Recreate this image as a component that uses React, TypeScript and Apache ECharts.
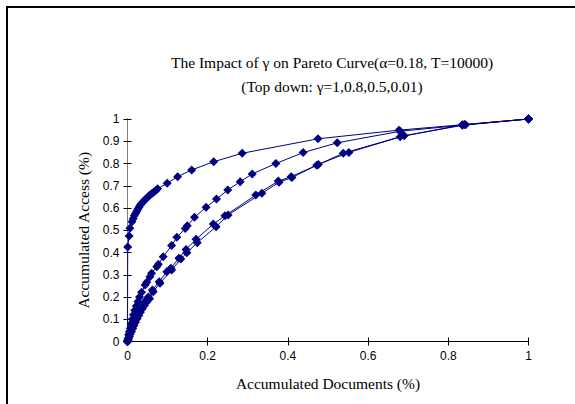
import React, { useEffect, useRef } from "react";
import * as echarts from "echarts";

const titleLine1 = "The Impact of γ on Pareto Curve(α=0.18, T=10000)";
const titleLine2 = "(Top down: γ=1,0.8,0.5,0.01)";
const xAxisName = "Accumulated Documents (%)";
const yAxisName = "Accumulated Access (%)";
const seriesNames = ["γ=1", "γ=0.8", "γ=0.5", "γ=0.01"];

const g1X = [0, 0.0005, 0.004, 0.006, 0.011, 0.014, 0.017, 0.02, 0.023, 0.026, 0.029, 0.032, 0.035, 0.039, 0.043, 0.047, 0.051, 0.055, 0.06, 0.065, 0.07, 0.075, 0.099, 0.125, 0.16, 0.215, 0.286, 0.475, 0.677, 0.84, 1];
const g1Y = [0, 0.425, 0.474, 0.509, 0.538, 0.552, 0.565, 0.575, 0.585, 0.595, 0.605, 0.613, 0.62, 0.628, 0.636, 0.643, 0.65, 0.657, 0.664, 0.671, 0.678, 0.686, 0.711, 0.741, 0.771, 0.808, 0.846, 0.911, 0.95, 0.975, 1];

const g08X = [0, 0.001, 0.002, 0.003, 0.005, 0.007, 0.009, 0.012, 0.015, 0.018, 0.022, 0.026, 0.03, 0.035, 0.044, 0.048, 0.056, 0.06, 0.073, 0.077, 0.089, 0.11, 0.123, 0.144, 0.149, 0.167, 0.196, 0.222, 0.25, 0.281, 0.311, 0.37, 0.438, 0.523, 0.68, 0.835, 1];
const g08Y = [0, 0.005, 0.015, 0.03, 0.045, 0.06, 0.08, 0.1, 0.12, 0.14, 0.16, 0.18, 0.2, 0.221, 0.254, 0.266, 0.291, 0.307, 0.336, 0.347, 0.381, 0.431, 0.468, 0.508, 0.52, 0.558, 0.603, 0.64, 0.681, 0.718, 0.753, 0.8, 0.849, 0.893, 0.945, 0.972, 1];

const g05X = [0, 0.001, 0.002, 0.004, 0.006, 0.008, 0.011, 0.014, 0.018, 0.022, 0.026, 0.03, 0.035, 0.04, 0.046, 0.052, 0.062, 0.079, 0.098, 0.108, 0.128, 0.146, 0.171, 0.214, 0.243, 0.32, 0.376, 0.408, 0.472, 0.538, 0.68, 0.835, 1];
const g05Y = [0, 0.005, 0.015, 0.03, 0.04, 0.05, 0.065, 0.08, 0.095, 0.11, 0.125, 0.14, 0.155, 0.17, 0.185, 0.2, 0.231, 0.269, 0.314, 0.329, 0.374, 0.414, 0.459, 0.528, 0.565, 0.658, 0.721, 0.741, 0.792, 0.846, 0.92, 0.974, 1];

const g001X = [0, 0.001, 0.003, 0.005, 0.007, 0.01, 0.013, 0.016, 0.02, 0.024, 0.028, 0.032, 0.037, 0.042, 0.048, 0.055, 0.064, 0.081, 0.11, 0.133, 0.148, 0.174, 0.221, 0.251, 0.335, 0.378, 0.41, 0.476, 0.552, 0.69, 0.843, 1];
const g001Y = [0, 0.004, 0.012, 0.024, 0.034, 0.045, 0.058, 0.072, 0.087, 0.102, 0.117, 0.132, 0.147, 0.162, 0.177, 0.192, 0.224, 0.262, 0.321, 0.371, 0.399, 0.444, 0.516, 0.569, 0.666, 0.716, 0.737, 0.796, 0.85, 0.925, 0.974, 1];

const xTicks = { min: 0, max: 1, interval: 0.2 };
const yTicks = { min: 0, max: 1, interval: 0.1 };

const zip = (xs: number[], ys: number[]) => xs.map((x, i) => [x, ys[i]]);

export default function App() {
  const ref = useRef<HTMLDivElement>(null);
  useEffect(() => {
    document.body.style.margin = "0";
    if (!ref.current) return;
    const chart = echarts.init(ref.current, undefined, { renderer: "svg" });
    const navy = "#000080";
    const serif = "'Liberation Serif', 'Times New Roman', serif";
    const sans = "'Liberation Sans', Arial, sans-serif";
    const black = "#000";
    const allData = [zip(g1X, g1Y), zip(g08X, g08Y), zip(g05X, g05Y), zip(g001X, g001Y)];
    chart.setOption({
      animation: false,
      backgroundColor: "#fff",
      title: {
        text: titleLine1 + "\n" + titleLine2,
        left: 327,
        top: 45,
        textAlign: "center",
        padding: 5,
        textStyle: { fontFamily: serif, fontSize: 15.5, fontWeight: "normal", color: black, lineHeight: 24.5, align: "center" },
      },
      grid: { left: 127.5, right: 46.5, top: 119, bottom: 62.5, containLabel: false },
      xAxis: [
        {
          type: "value", ...xTicks, position: "bottom",
          axisLine: { show: true, lineStyle: { color: black, width: 1 } },
          axisTick: { show: true, inside: false, length: 4, lineStyle: { color: black } },
          axisLabel: { color: black, fontFamily: sans, fontSize: 12, margin: 8 },
          splitLine: { show: false },
          name: xAxisName, nameLocation: "middle", nameGap: 34,
          nameTextStyle: { fontFamily: serif, fontSize: 15.5, color: black },
        },
        {
          type: "value", ...xTicks, position: "bottom",
          axisLine: { show: false },
          axisTick: { show: true, inside: true, length: 4, lineStyle: { color: black } },
          axisLabel: { show: false }, splitLine: { show: false },
        },
        {
          type: "value", ...xTicks, position: "top",
          axisLine: { show: true, lineStyle: { color: black, width: 1 } },
          axisTick: { show: false }, axisLabel: { show: false }, splitLine: { show: false },
        },
      ],
      yAxis: [
        {
          type: "value", ...yTicks, position: "left",
          axisLine: { show: true, lineStyle: { color: black, width: 1 } },
          axisTick: { show: true, inside: false, length: 4, lineStyle: { color: black } },
          axisLabel: { color: black, fontFamily: sans, fontSize: 12, margin: 8 },
          splitLine: { show: false },
          name: yAxisName, nameLocation: "middle", nameGap: 33, nameRotate: 90,
          nameTextStyle: { fontFamily: serif, fontSize: 15.5, color: black },
        },
        {
          type: "value", ...yTicks, position: "left",
          axisLine: { show: false },
          axisTick: { show: true, inside: true, length: 4, lineStyle: { color: black } },
          axisLabel: { show: false }, splitLine: { show: false },
        },
        {
          type: "value", ...yTicks, position: "right",
          axisLine: { show: true, lineStyle: { color: "#808080", width: 1 } },
          axisTick: { show: false }, axisLabel: { show: false }, splitLine: { show: false },
        },
      ],
      series: allData.map((d, i) => ({
        name: seriesNames[i],
        type: "line",
        xAxisIndex: 0,
        yAxisIndex: 0,
        data: d,
        symbol: "diamond",
        symbolSize: 9,
        showSymbol: true,
        lineStyle: { color: navy, width: 1 },
        itemStyle: { color: navy, borderWidth: 0 },
        z: 2,
      })),
      graphic: [
        { type: "line", shape: { x1: 7, y1: 7, x2: 575, y2: 7 }, style: { stroke: black, lineWidth: 2 } },
        { type: "line", shape: { x1: 7, y1: 6, x2: 7, y2: 404 }, style: { stroke: black, lineWidth: 2 } },
      ],
    });
    return () => chart.dispose();
  }, []);
  return <div ref={ref} style={{ width: 575, height: 404 }} />;
}
